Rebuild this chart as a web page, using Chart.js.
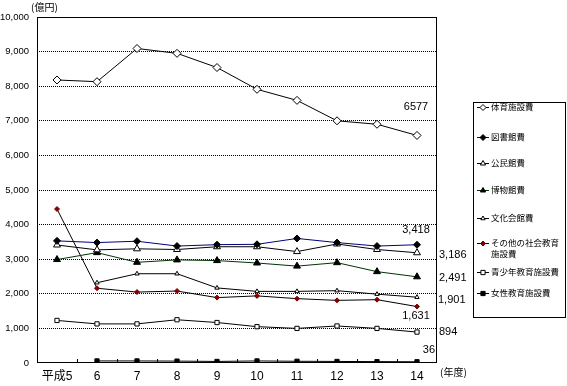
<!DOCTYPE html>
<html><head><meta charset="utf-8">
<script src="https://cdn.jsdelivr.net/npm/chart.js@4/dist/chart.umd.min.js"></script>
<style>html,body{margin:0;padding:0;background:#fff;}#wrap{width:567px;height:386px;}</style>
</head><body><div id="wrap"><canvas id="c" width="567" height="386"></canvas></div>
<script>
const categories = ['平成5','6','7','8','9','10','11','12','13','14'];
const taiiku      = [8180, 8130, 9090, 8950, 8540, 7910, 7590, 7000, 6900, 6577];
const toshokan    = [3530, 3480, 3520, 3380, 3420, 3430, 3600, 3480, 3380, 3418];
const kominkan    = [3410, 3270, 3300, 3280, 3360, 3360, 3220, 3440, 3280, 3186];
const hakubutsu   = [2990, 3190, 2910, 2980, 2960, 2890, 2800, 2900, 2640, 2491];
const bunka       = [null, 2320, 2580, 2580, 2170, 2070, 2070, 2090, 1990, 1901];
const sonota      = [4450, 2160, 2050, 2080, 1890, 1940, 1860, 1810, 1830, 1631];
const seishonen   = [1230, 1130, 1130, 1250, 1170, 1050, 1000, 1070, 1000, 894];
const josei       = [null, 60, 60, 55, 45, 60, 50, 45, 40, 36];
const seriesNames = ['体育施設費','図書館費','公民館費','博物館費','文化会館費','その他の社会教育施設費','青少年教育施設費','女性教育施設費'];
const endLabels   = ['6577','3,418','3,186','2,491','1,901','1,631','894','36'];
const yTicks = [0,1000,2000,3000,4000,5000,6000,7000,8000,9000,10000];

const NUM = "'Liberation Sans','Noto Sans CJK JP',sans-serif";
const JP = "'Noto Sans CJK JP',sans-serif";

function ds(label, data, line, pStyle, radius, fill, stroke) {
  return { label, data, borderColor: line, borderWidth: 1, tension: 0,
    pointStyle: pStyle, pointRadius: radius, pointHoverRadius: radius,
    pointBackgroundColor: fill, pointBorderColor: stroke, pointBorderWidth: 1 };
}
const datasets = [
  ds(seriesNames[0], taiiku, '#000', 'rectRot', 4, '#fff', '#000'),
  ds(seriesNames[1], toshokan, '#000080', 'rectRot', 3.5, '#000', '#000'),
  ds(seriesNames[2], kominkan, '#000', 'triangle', 4, '#fff', '#000'),
  ds(seriesNames[3], hakubutsu, '#003300', 'triangle', 4, '#000', '#000'),
  ds(seriesNames[4], bunka, '#000', 'triangle', 2.5, '#fff', '#000'),
  ds(seriesNames[5], sonota, '#000', 'rectRot', 2.5, '#800000', '#800000'),
  ds(seriesNames[6], seishonen, '#000', 'rect', 3, '#fff', '#000'),
  ds(seriesNames[7], josei, '#000', 'rect', 3, '#000', '#000'),
];

// offsets of value labels relative to last point: [dx, dy, align]
const labelPlace = [[-1,-28,'center'],[-1,-15,'center'],[22,2,'left'],[22,1,'left'],[21,3,'left'],[-1,9,'center'],[22,0,'left'],[18,-12,'right']];
const legendY = [[107],[137],[163],[190],[218],[243,254],[272],[293]];

const deco = {
  id: 'deco',
  afterDraw(chart) {
    const ctx = chart.ctx, a = chart.chartArea, xs = chart.scales.x;
    ctx.save();
    ctx.strokeStyle = '#000'; ctx.lineWidth = 1;
    ctx.strokeRect(Math.round(a.left)+0.5, Math.round(a.top)+0.5, Math.round(a.right-a.left)-1, Math.round(a.bottom-a.top)-1);
    ctx.beginPath();
    for (let i = 1; i < categories.length; i++) {
      const x = Math.round((xs.getPixelForValue(i-1) + xs.getPixelForValue(i)) / 2) + 0.5;
      ctx.moveTo(x, Math.round(a.bottom)); ctx.lineTo(x, Math.round(a.bottom) - 4);
    }
    ctx.stroke();
    ctx.fillStyle = '#000';
    ctx.font = '10px ' + JP; ctx.textBaseline = 'middle'; ctx.textAlign = 'left';
    ctx.fillText('(億円)', 31, 7);
    ctx.fillText('(年度)', 440, 372);
    ctx.font = '11px ' + NUM;
    datasets.forEach((d, i) => {
      const pts = chart.getDatasetMeta(i).data;
      const p = pts[pts.length - 1];
      const [dx, dy, al] = labelPlace[i];
      ctx.textAlign = al;
      ctx.fillText(endLabels[i], p.x + dx, p.y + dy);
    });
    ctx.strokeRect(473.5, 102.5, 92, 215);
    ctx.font = '8.5px ' + JP; ctx.textAlign = 'left';
    const texts = [['体育施設費'],['図書館費'],['公民館費'],['博物館費'],['文化会館費'],['その他の社会教育','施設費'],['青少年教育施設費'],['女性教育施設費']];
    datasets.forEach((d, i) => {
      const ys = legendY[i];
      const y = ys[0] + 0.5;
      ctx.strokeStyle = d.borderColor;
      ctx.beginPath(); ctx.moveTo(477, y); ctx.lineTo(489, y); ctx.stroke();
      ctx.fillStyle = d.pointBackgroundColor; ctx.strokeStyle = d.pointBorderColor;
      if (Chart.helpers && Chart.helpers.drawPoint) {
        Chart.helpers.drawPoint(ctx, { pointStyle: d.pointStyle, radius: Math.min(d.pointRadius, 3), rotation: 0, borderWidth: 1 }, 483, y);
      }
      ctx.fillStyle = '#000';
      texts[i].forEach((t, k) => ctx.fillText(t, 491, ys[k] ?? ys[0] + 11*k));
    });
    ctx.restore();
  }
};

new Chart(document.getElementById('c'), {
  type: 'line',
  data: { labels: categories, datasets },
  options: {
    responsive: false, animation: false, devicePixelRatio: 1,
    layout: { padding: { top: 17, right: 130, bottom: 0, left: 0 } },
    plugins: { legend: { display: false }, tooltip: { enabled: false } },
    scales: {
      x: {
        offset: true,
        grid: { display: false, drawTicks: false },
        border: { display: false },
        ticks: { color: '#000', font: { family: NUM, size: 12 }, padding: 6, maxRotation: 0, autoSkip: false },
        afterFit(s) { s.height = 23; }
      },
      y: {
        min: 0, max: 10000,
        afterBuildTicks(s) { s.ticks = yTicks.map(v => ({ value: v })); },
        grid: { color: c => (c.tick && (c.tick.value === 0 || c.tick.value === 10000)) ? 'rgba(0,0,0,0)' : '#000', lineWidth: 1, drawTicks: false },
        border: { display: false, dash: [1, 1] },
        ticks: { color: '#000', font: { family: NUM, size: 9.5 }, padding: 8,
          callback: v => Number(v).toLocaleString('en-US') },
        afterFit(s) { s.width = 37; }
      }
    }
  },
  plugins: [deco]
});
</script></body></html>
